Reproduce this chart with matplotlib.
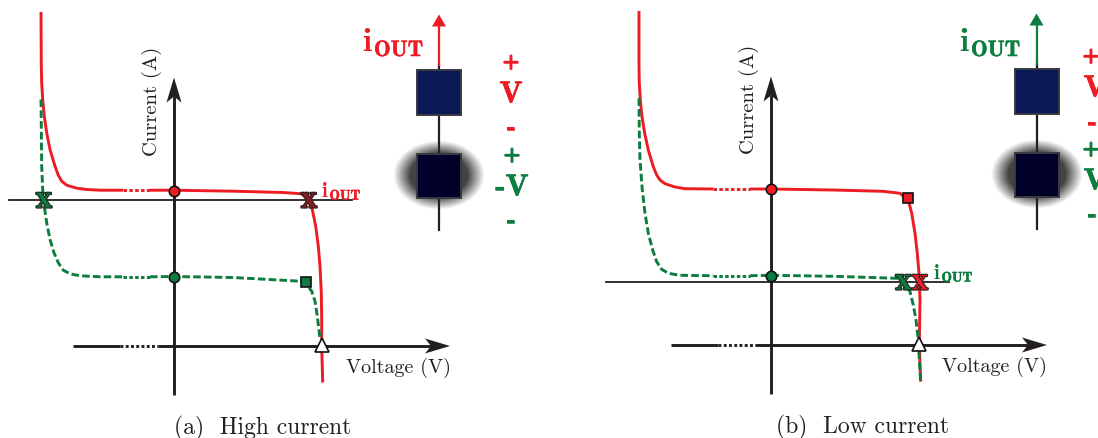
import matplotlib
matplotlib.use("Agg")
import matplotlib.pyplot as plt
import matplotlib.patheffects as pe
import numpy as np
from matplotlib.patches import Rectangle

RED = "#ed1c24"
GREEN = "#0b7d3e"
BLACK = "#231f20"

# curves, as voltage / current readings from the picture (arbitrary units)
red_a_v = [-133, -132.7, -132.3, -131.3, -129.7, -127.3, -124, -119, -115.7, -112.3, -107.3, -97.3, -87.3, -74, -51, -24, 0, 59, 109, 127.7, 134.3, 138.3, 141.7, 144.3, 146, 147.3, 147.7, 147.7, 148.7]
red_a_i = [334, 279.8, 263, 246.5, 229.8, 213.2, 196.5, 179.8, 170.8, 164.8, 160.8, 157.8, 156.5, 155.8, 155.8, 155.8, 155.8, 154.8, 153.5, 152.2, 146.5, 136.5, 119.8, 99.8, 79.8, 53.2, 26.5, 0, -36.5]
green_a_v = [-133, -132.3, -131.3, -129.7, -127.3, -124, -120, -115.7, -110.7, -104, -94, -74, -51, -24, 0, 59, 126, 131, 137.7, 141, 143.3, 145.3, 146]
green_a_i = [246.5, 179.8, 156.5, 139.8, 123.2, 106.5, 93.2, 83.2, 75.8, 72.2, 70.2, 69.2, 69.2, 69.2, 69.5, 68.5, 64.8, 63.2, 54.8, 44.8, 29.8, 13.2, 6.5]

red_b_v = [-132, -132, -131.7, -130.7, -129, -126.3, -122.7, -117.7, -114.3, -111, -106, -96, -86, -57.7, -21, 0, 62, 112, 129, 137.3, 140.7, 144, 146.3, 148, 149, 148.3, 149.7]
red_b_i = [334, 278.3, 261.7, 245, 228.3, 211.7, 195, 178.3, 170, 165, 161.3, 158, 156.3, 156, 156, 156, 155, 153.7, 151.7, 145, 131.7, 111.7, 91.7, 71.7, 45, 0, -36.7]
green_b_v = [-132, -131.7, -131, -128.7, -126, -122.7, -118.3, -114.3, -109.3, -102.7, -91, -57.7, -21, 0, 62, 125.7, 134, 139, 142.3, 145, 147.3, 148.3, 149.7]
green_b_i = [246.7, 211.7, 185, 155, 131.7, 111.7, 95, 83.3, 75.7, 71.7, 69.7, 69.3, 69.3, 69.7, 68.7, 66.7, 61.7, 53.3, 40, 25, 5, -15, -36.7]

captions = ["(a)  High current", "(b)  Low current"]
x_label = "Voltage (V)"
y_label = "Current (A)"


def stealth(ax, x, y, dx, dy, color, length=25, half=7.5, notch=6):
    # arrow head with a notched back, pointing along (dx, dy)
    nx, ny = -dy, dx
    pts = [(x, y),
           (x - dx * length + nx * half, y - dy * length + ny * half),
           (x - dx * (length - notch), y - dy * (length - notch)),
           (x - dx * length - nx * half, y - dy * length - ny * half)]
    ax.fill(*zip(*pts), color=color, lw=0, zorder=6)


def draw_curve(ax, v, i, gap, color, solid_style):
    v, i = np.array(v), np.array(i)
    left = v <= gap[0]
    mid = (v >= gap[0]) & (v <= gap[1])
    right = v >= gap[1]
    for mask in (left, right):
        ax.plot(v[mask], i[mask], color=color, lw=2.1, ls=solid_style,
                solid_capstyle="butt", dash_capstyle="butt", zorder=3)
    ax.plot(v[mid], i[mid], color=color, lw=2.1, ls=(0, (1.2, 0.8)), zorder=3)


def x_mark(ax, x, y, color):
    ax.text(x, y - 1.5, "X", family="DejaVu Serif", weight="bold", fontsize=14.5, color=color,
            ha="center", va="center", zorder=7,
            path_effects=[pe.withStroke(linewidth=1.6, foreground=BLACK)])


def i_out(ax, x, y, color, big):
    size_i, size_sub, step = (24, 16, 12) if big else (15, 10, 7.5)
    ax.text(x, y, "i", family="cmb10", fontsize=size_i, color=color, ha="left", va="baseline", zorder=7)
    ax.text(x + step, y - (6 if big else 3.5), "OUT", family="cmb10", fontsize=size_sub, color=color,
            ha="left", va="baseline", zorder=7,
            path_effects=[pe.withStroke(linewidth=0.4, foreground=color)])


def sign(ax, x, y, s, color, size=15, bold=0.4):
    ax.text(x, y, s, family="cmb10", fontsize=size, color=color, ha="center", va="center", zorder=7,
            path_effects=[pe.withStroke(linewidth=bold, foreground=color)])


def device(ax, x, arrow_color):
    # wires and output arrow
    ax.plot([x, x], [116.5, 281], color=BLACK, lw=1.6, zorder=2)
    ax.plot([x, x], [281, 320], color=arrow_color, lw=1.6, zorder=2)
    stealth(ax, x, 331.5, 0, 1, arrow_color, length=12, half=7, notch=0)
    # heat glow round the lower cell
    xx, yy = np.meshgrid(np.linspace(x - 50, x + 50, 200), np.linspace(130, 210, 160))
    d = np.hypot((xx - x) / 45, (yy - 171) / 34)
    alpha = np.clip((1.02 - d) / 0.38, 0, 1) * 0.85
    rgba = np.zeros(xx.shape + (4,))
    rgba[..., :3] = 0.13
    rgba[..., 3] = alpha
    ax.imshow(rgba, extent=(x - 50, x + 50, 130, 210), origin="lower", aspect="auto",
              interpolation="bilinear", zorder=3)
    ax.add_patch(Rectangle((x - 22, 231.5), 44, 45, fc="#0b1a57", ec="#3a3a40", lw=1.4, zorder=4))
    ax.add_patch(Rectangle((x - 22, 148), 44, 44.5, fc="#00002a", ec="#3a3a40", lw=1.4, zorder=4))


def panel(ax, red, green, gap, load_y, dotted, hline, caption, cap_x):
    ax.set_axis_off()
    # load line and axes
    ax.plot([-165, 178], [load_y, load_y], color=BLACK, lw=1.3, zorder=2)
    ax.plot([0, 0], [-49, 250], color=BLACK, lw=2.1, zorder=2, solid_capstyle="butt")
    stealth(ax, 0, 268.5, 0, 1, BLACK)
    ax.plot([hline, dotted[0]], [0, 0], color=BLACK, lw=2.1, solid_capstyle="butt", zorder=2)
    ax.plot(dotted, [0, 0], color=BLACK, lw=2.1, ls=(0, (1.0, 0.8)), zorder=2)
    ax.plot([dotted[1], 260], [0, 0], color=BLACK, lw=2.1, solid_capstyle="butt", zorder=2)
    stealth(ax, 276, 0, 1, 0, BLACK)
    draw_curve(ax, red[0], red[1], gap, RED, "-")
    draw_curve(ax, green[0], green[1], gap, GREEN, (0, (2.6, 1.1)))
    ax.text(-22, 191.5, y_label, family="cmr10", fontsize=14.8, color=BLACK, rotation=90,
            ha="center", va="bottom", zorder=7)
    ax.text(171.5, -21, x_label, family="cmr10", fontsize=14.5, color=BLACK,
            ha="left", va="center", zorder=7)
    ax.text(cap_x, -81, caption, family="cmr10", fontsize=17, color=BLACK,
            ha="center", va="center", zorder=7)


def dot(ax, x, y, color, marker="o", size=7.5):
    ax.plot([x], [y], marker=marker, ms=size, mfc=color, mec="#111111", mew=1.2, ls="none", zorder=6)


fig = plt.figure(figsize=(10.98, 4.39), dpi=100)

ax_a = fig.add_axes([0, 0, 0.5, 1])
ax_b = fig.add_axes([0.5, 0, 0.5, 1])

panel(ax_a, (red_a_v, red_a_i), (green_a_v, green_a_i), (-51, -24), 146, [-54, -16], -101, captions[0], 89)
panel(ax_b, (red_b_v, red_b_i), (green_b_v, green_b_i), (-57.7, -21), 63, [-53, -16], -100, captions[1], 91)

# panel a markers and labels
dot(ax_a, 0, 155.5, RED)
dot(ax_a, 0, 69.5, GREEN)
dot(ax_a, 131.5, 64, GREEN, marker="s", size=7)
dot(ax_a, 147.5, 1.5, "white", marker="^", size=10)
x_mark(ax_a, -130, 146, GREEN)
x_mark(ax_a, 135, 146, "#8a1c20")
i_out(ax_a, 148, 150, RED, False)
i_out(ax_a, 188, 296, RED, True)
device(ax_a, 265, RED)
sign(ax_a, 337, 284, "+", RED, bold=1.2)
sign(ax_a, 337, 251, "V", RED, 22)
sign(ax_a, 337, 218, "-", RED, 20)
sign(ax_a, 338, 191, "+", GREEN, bold=1.2)
sign(ax_a, 338, 158, "-V", GREEN, 22)
sign(ax_a, 337, 125, "-", GREEN, 20)

# panel b markers and labels
dot(ax_b, 0, 156, RED)
dot(ax_b, 0, 69.5, GREEN)
dot(ax_b, 137, 147, RED, marker="s", size=7)
dot(ax_b, 148, 1.5, "white", marker="^", size=10)
x_mark(ax_b, 132.5, 63, GREEN)
x_mark(ax_b, 149, 63, RED)
i_out(ax_b, 163, 67, GREEN, False)
i_out(ax_b, 188, 295, GREEN, True)
device(ax_b, 265.5, GREEN)
sign(ax_b, 320, 289, "+", RED, bold=1.2)
sign(ax_b, 324, 256, "V", RED, 22)
sign(ax_b, 321, 222, "-", RED, 20)
sign(ax_b, 320, 196, "+", GREEN, bold=1.2)
sign(ax_b, 324, 163, "V", GREEN, 22)
sign(ax_b, 321, 130, "-", GREEN, 20)

# imshow resets the limits, so these go last
ax_a.set_xlim(-174, 375)
ax_a.set_ylim(-92, 347)
ax_b.set_xlim(-222, 327)
ax_b.set_ylim(-93, 346)

fig.savefig("out.png", dpi=100)
plt.close(fig)
